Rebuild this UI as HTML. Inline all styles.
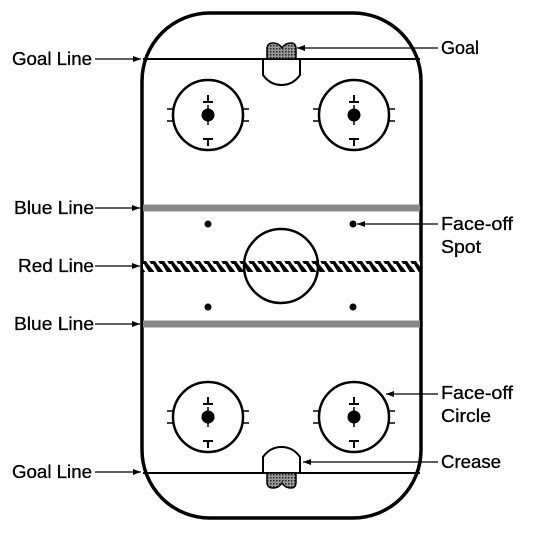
<!DOCTYPE html>
<html><head><meta charset="utf-8"><style>
html,body{margin:0;padding:0;background:#fff;width:535px;height:534px;overflow:hidden}
svg{display:block}
text{font-family:"Liberation Sans",sans-serif;font-size:18px;fill:#000;stroke:#000;stroke-width:0.3}
</style></head><body>
<svg width="535" height="534" viewBox="0 0 535 534">
<defs>
<pattern id="hatch" width="9" height="12" patternUnits="userSpaceOnUse">
<rect width="9" height="12" fill="#fff"/>
<polygon points="0,0 4,0 9,6 9,12 7,12" fill="#000"/>
<polygon points="0,6 0,12 4,12" fill="#000"/>
</pattern>
<pattern id="mesh" width="3" height="3" patternUnits="userSpaceOnUse">
<rect width="3" height="3" fill="#999"/><rect width="1.5" height="1.5" fill="#222"/>
</pattern>
<marker id="ah" markerWidth="8" markerHeight="6" refX="8" refY="3" orient="auto" markerUnits="userSpaceOnUse">
<polygon points="0,0 8,3 0,6" fill="#000"/></marker>
<g id="fc">
<circle cx="0" cy="0" r="35" fill="none" stroke="#000" stroke-width="2.5"/>
<circle cx="0" cy="0" r="6.5" fill="#000"/>
<line x1="0" y1="-10" x2="0" y2="10" stroke="#000" stroke-width="1.5"/>
<path d="M-5,-13 H5 M0,-13 V-20 M-5,24 H5 M0,24 V31" stroke="#000" stroke-width="2" fill="none"/>
<path d="M-41,-6 H-34 M-41,6 H-34 M34,-6 H41 M34,6 H41" stroke="#000" stroke-width="1.5"/>
</g>
</defs>
<g>
<rect x="142" y="13" width="279" height="505" rx="68" fill="#fff" stroke="#000" stroke-width="3.5"/>
<line x1="143" y1="59" x2="420" y2="59" stroke="#000" stroke-width="2"/>
<line x1="143" y1="473" x2="420" y2="473" stroke="#000" stroke-width="2"/>
<rect x="143" y="204.5" width="277" height="7" fill="#888"/>
<rect x="143" y="320.5" width="277" height="7" fill="#888"/>
<rect x="143" y="261" width="277" height="11" fill="url(#hatch)"/>
<circle cx="281" cy="266" r="37" fill="none" stroke="#000" stroke-width="2.5"/>
<circle cx="208" cy="224" r="3.5"/>
<circle cx="353" cy="224" r="3.5"/>
<circle cx="208" cy="307" r="3.5"/>
<circle cx="353" cy="307" r="3.5"/>
<use href="#fc" x="208" y="115"/>
<use href="#fc" x="354" y="115"/>
<use href="#fc" x="208" y="417"/>
<use href="#fc" x="354" y="417"/>
<path d="M267,59 V49 Q267,43 273,43 Q279,43 282,48 Q285,43 291,43 Q296,43 296,49 V59 Z" fill="url(#mesh)" stroke="#000" stroke-width="1.5"/>
<path d="M263,59 V75 Q270,85 281.5,85 Q293,85 300,75 V59" fill="none" stroke="#000" stroke-width="2"/>
<path d="M267,473 V482 Q267,488 273,488 Q279,488 282,483 Q285,488 291,488 Q296,488 296,482 V473 Z" fill="url(#mesh)" stroke="#000" stroke-width="1.5"/>
<path d="M263,473 V457 Q270,447 281.5,447 Q293,447 300,457 V473" fill="none" stroke="#000" stroke-width="2"/>
</g>
<g stroke="#000" stroke-width="1.2" marker-end="url(#ah)">
<line x1="95" y1="59" x2="141" y2="59"/>
<line x1="438" y1="48" x2="297" y2="48"/>
<line x1="95" y1="208" x2="140" y2="208"/>
<line x1="95" y1="266" x2="140" y2="266"/>
<line x1="95" y1="324" x2="140" y2="324"/>
<line x1="95" y1="472" x2="141" y2="472"/>
<line x1="438" y1="224" x2="357" y2="224"/>
<line x1="438" y1="394" x2="386" y2="394"/>
<line x1="438" y1="462" x2="303" y2="462"/>
</g>
<text x="12" y="65" textLength="80" lengthAdjust="spacingAndGlyphs">Goal Line</text>
<text x="441" y="54" textLength="38" lengthAdjust="spacingAndGlyphs">Goal</text>
<text x="14" y="214" textLength="80" lengthAdjust="spacingAndGlyphs">Blue Line</text>
<text x="18" y="272" textLength="76" lengthAdjust="spacingAndGlyphs">Red Line</text>
<text x="14" y="330" textLength="80" lengthAdjust="spacingAndGlyphs">Blue Line</text>
<text x="12" y="478" textLength="80" lengthAdjust="spacingAndGlyphs">Goal Line</text>
<text x="441" y="230" textLength="72" lengthAdjust="spacingAndGlyphs">Face-off</text>
<text x="441" y="253" textLength="40" lengthAdjust="spacingAndGlyphs">Spot</text>
<text x="441" y="399" textLength="72" lengthAdjust="spacingAndGlyphs">Face-off</text>
<text x="441" y="422" textLength="50" lengthAdjust="spacingAndGlyphs">Circle</text>
<text x="441" y="468" textLength="60" lengthAdjust="spacingAndGlyphs">Crease</text>
</svg>
</body></html>
